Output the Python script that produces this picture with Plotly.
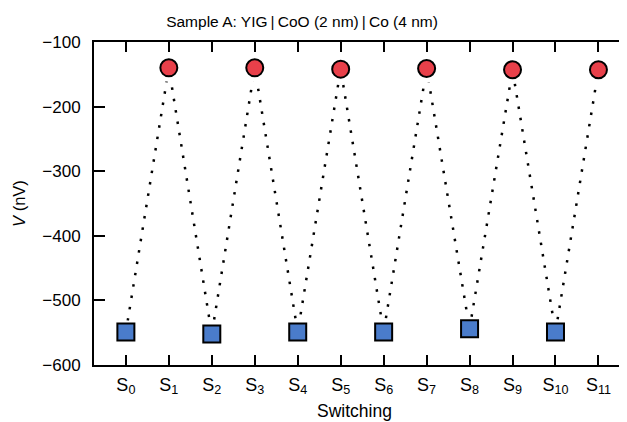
import plotly.graph_objects as go

# Data
states = list(range(12))
tick_labels = ["S<sub>%d</sub>" % i for i in states]
voltage = [-549, -140, -552, -140, -549, -142, -549, -141, -544, -143, -549, -143]
high_idx = [1, 3, 5, 7, 9, 11]
low_idx = [0, 2, 4, 6, 8, 10]
y_ticks = [-100, -200, -300, -400, -500, -600]
y_tick_labels = ["\u2212100", "\u2212200", "\u2212300", "\u2212400", "\u2212500", "\u2212600"]

FONT = "Liberation Sans, Arial, Helvetica, sans-serif"
W, H = 627, 422
OFF = 8  # page body margin
L, R, T, B = 94 - OFF, 0, 42 - OFF, H - (365 - OFF)

fig = go.Figure()

# dotted connecting line
fig.add_trace(go.Scatter(
    x=states, y=voltage, mode="lines",
    line=dict(color="black", width=2.5, dash="2.5px,9px"),
    hoverinfo="skip", showlegend=False))

# white masks around markers (gap effect)
fig.add_trace(go.Scatter(
    x=[states[i] for i in high_idx], y=[voltage[i] for i in high_idx], mode="markers",
    marker=dict(symbol="circle", size=28, color="white", line=dict(width=0)),
    hoverinfo="skip", showlegend=False))
fig.add_trace(go.Scatter(
    x=[states[i] for i in low_idx], y=[voltage[i] for i in low_idx], mode="markers",
    marker=dict(symbol="square", size=23, color="white", line=dict(width=0)),
    hoverinfo="skip", showlegend=False))

# markers
fig.add_trace(go.Scatter(
    x=[states[i] for i in high_idx], y=[voltage[i] for i in high_idx], mode="markers",
    marker=dict(symbol="circle", size=17, color="#E8404A", line=dict(color="black", width=2)),
    showlegend=False))
fig.add_trace(go.Scatter(
    x=[states[i] for i in low_idx], y=[voltage[i] for i in low_idx], mode="markers",
    marker=dict(symbol="square", size=17, color="#4A7CCB", line=dict(color="black", width=2)),
    showlegend=False))

plot_w = W - L - R
s0_px, spacing = 126 - 94, 43.12
x_lo = -s0_px / spacing
x_hi = x_lo + plot_w / spacing

fig.update_layout(
    width=W, height=H,
    margin=dict(l=L, r=R, t=T, b=B, pad=0),
    paper_bgcolor="white", plot_bgcolor="white",
    font=dict(family=FONT, size=16, color="black"),
    title=dict(text="Sample A: YIG\u2009|\u2009CoO (2 nm)\u2009|\u2009Co (4 nm)",
               x=(302 - OFF) / W, xanchor="center", y=1 - (22 - OFF) / H, yanchor="middle",
               font=dict(size=15.5, family=FONT, color="black")),
    xaxis=dict(
        range=[x_lo, x_hi], tickmode="array", tickvals=states, ticktext=tick_labels,
        ticks="inside", ticklen=10, tickwidth=2, tickcolor="black",
        showline=True, linewidth=2, linecolor="black", mirror="allticks",
        showgrid=False, zeroline=False,
        tickfont=dict(size=18), ticklabelstandoff=2,
    ),
    yaxis=dict(
        range=[-600, -100], tickmode="array", tickvals=y_ticks, ticktext=y_tick_labels,
        ticks="inside", ticklen=11, tickwidth=2, tickcolor="black",
        showline=True, linewidth=2, linecolor="black", mirror="ticks",
        showgrid=False, zeroline=False,
        title=dict(text="<i>V</i> (nV)", standoff=13, font=dict(size=16.5)),
        tickfont=dict(size=17), ticklabelstandoff=8,
    ),
    annotations=[dict(
        text="Switching", xref="paper", yref="paper",
        x=(355 - OFF - L) / plot_w, y=-(411 - 365) / (365 - 42),
        xanchor="center", yanchor="middle", showarrow=False,
        font=dict(size=17.5, family=FONT, color="black"))],
)

fig.write_html("out.html")
